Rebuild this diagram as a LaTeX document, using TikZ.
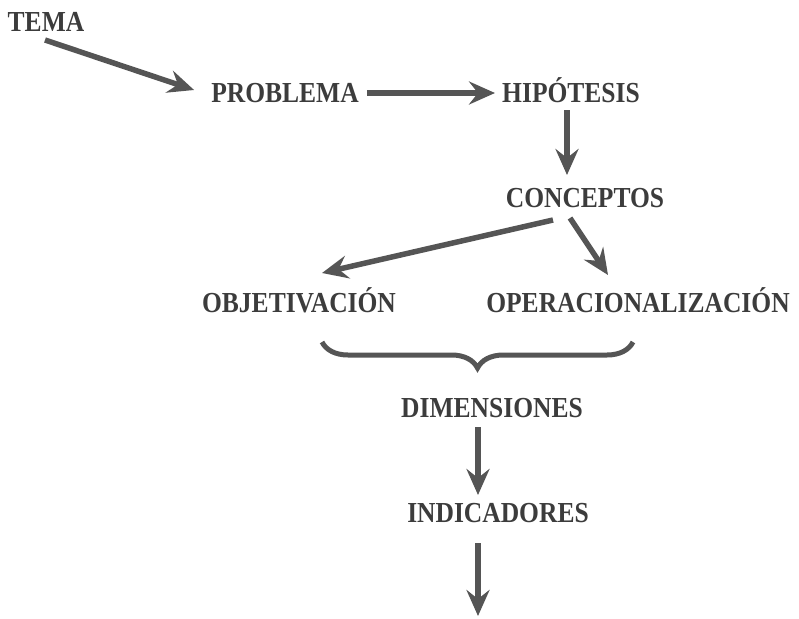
\documentclass[tikz,border=0pt]{standalone}
\usepackage{fontspec}
\usepackage{xcolor}
\usetikzlibrary{calc,arrows.meta,decorations.pathreplacing}
\newfontfamily\diagfont{Liberation Serif}[FakeStretch=0.88]
\definecolor{inkgray}{HTML}{3C3C3C}
\definecolor{arrowgray}{HTML}{555555}
\tikzset{
	word/.style={inner sep=0pt,anchor=base,text=inkgray,font=\diagfont\bfseries\fontsize{29}{34}\selectfont},
	arr/.style={line width=5.5pt,arrowgray,-{Stealth[length=26pt,width=23pt,inset=9pt]}}
}

\begin{document}
\begin{tikzpicture}[x=1pt,y=-1pt]
	\useasboundingbox (0,0) rectangle (799,618);
	
	\node[word] (tema)         at (46,32)   {TEMA};
	\node[word] (problema)     at (285,102) {PROBLEMA};
	\node[word] (hipotesis)    at (571,102) {HIPÓTESIS};
	\node[word] (conceptos)    at (585,207) {CONCEPTOS};
	\node[word] (objetivacion) at (299,312) {OBJETIVACIÓN};
	\node[word] (operacion)    at (638,312) {OPERACIONALIZACIÓN};
	\node[word] (dimensiones)  at (492,417) {DIMENSIONES};
	\node[word] (indicadores)  at (498,522) {INDICADORES};
	\coordinate (fin) at (478,616);
	
	\draw[arr] ($(tema.base)+(-1,8)$) -- ($(problema.base west)+(-17,-12)$);
	\draw[arr] ($(problema.base east)+(8,-9)$) -- ($(hipotesis.base west)+(-7,-9)$);
	\draw[arr] ($(hipotesis.base)+(-4,8)$) -- ($(conceptos.base)+(-18,-32)$);
	\draw[arr] ($(conceptos.base)+(-32,13)$) -- ($(objetivacion.base)+(23,-39)$);
	\draw[arr] ($(conceptos.base)+(-15,11)$) -- ($(operacion.base)+(-30,-37)$);
	
	% brace under both
	\draw[arrowgray,line width=5pt,decorate,decoration={brace,mirror,amplitude=26pt}]
		($(objetivacion.base)+(23,30)$) -- ($(operacion.base)+(-5,30)$);
	
	\draw[arr] ($(dimensiones.base)+(-14,10)$) -- ($(indicadores.base)+(-20,-27)$);
	\draw[arr] ($(indicadores.base)+(-20,21)$) -- (fin);
\end{tikzpicture}
\end{document}
